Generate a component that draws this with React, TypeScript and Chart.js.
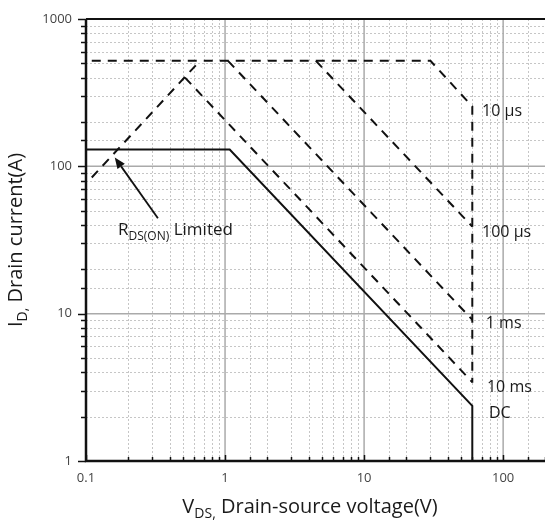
import { useEffect, useRef } from "react";
import { Chart, registerables } from "chart.js";

Chart.register(...registerables);

const FONT = '"Open Sans", "DejaVu Sans", sans-serif';

// Safe operating area boundaries, drain-source voltage (V) vs drain current (A)
const dcVoltage = [0.1, 1.08, 60, 60];
const dcCurrent = [130, 130, 2.37, 1];
const rdsVoltage = [0.11, 0.66];
const rdsCurrent = [84, 520];
const pulse10usVoltage = [0.11, 30, 60, 60];
const pulse10usCurrent = [520, 520, 255, 3.4];
const pulse100usVoltage = [4.5, 60];
const pulse100usCurrent = [520, 39];
const pulse1msVoltage = [1.05, 60];
const pulse1msCurrent = [520, 9.1];
const pulse10msVoltage = [0.515, 60];
const pulse10msCurrent = [400, 3.43];

// Axis ticks
const xTickValues = [0.1, 1, 10, 100];
const xTickLabels = ["0.1", "1", "10", "100"];
const yTickValues = [1, 10, 100, 1000];
const yTickLabels = ["1", "10", "100", "1000"];

// Curve names placed to the right of the 60 V limit
const curveNames = ["10 µs", "100 µs", "1 ms", "10 ms", "DC"];
const curveNameVoltage = [70.5, 70.5, 75, 76.5, 79];
const curveNameCurrent = [234, 35.8, 8.55, 3.15, 2.1];

// R_DS(on) annotation and its arrow (data coordinates)
const rdsNoteAt = [0.17, 34];
const arrowTail = [0.329, 44.4];
const arrowTip = [0.161, 115];

const isDecade = (v: number) =>
  Math.abs(Math.log10(v) - Math.round(Math.log10(v))) < 1e-6;

const labelFor = (v: number, values: number[], labels: string[]) => {
  for (let i = 0; i < values.length; i++) {
    if (Math.abs(v - values[i]) / values[i] < 1e-6) return labels[i];
  }
  return "";
};

type Part = { text: string; size: number; dy: number };

function drawParts(ctx: CanvasRenderingContext2D, parts: Part[], cx: number, y: number) {
  let total = 0;
  for (const p of parts) {
    ctx.font = `${p.size}px ${FONT}`;
    total += ctx.measureText(p.text).width;
  }
  let x = cx - total / 2;
  for (const p of parts) {
    ctx.font = `${p.size}px ${FONT}`;
    ctx.fillText(p.text, x, y + p.dy);
    x += ctx.measureText(p.text).width;
  }
}

const soaPlugin = {
  id: "soaFrame",
  beforeDatasetsDraw(chart: any) {
    const { ctx, chartArea: a, scales } = chart;
    const x = scales.x;
    const y = scales.y;
    ctx.save();
    // minor grid (dotted)
    ctx.lineWidth = 1;
    ctx.strokeStyle = "#c6c6c6";
    ctx.setLineDash([2, 2]);
    for (const t of x.ticks) {
      if (isDecade(t.value)) continue;
      const px = Math.round(x.getPixelForValue(t.value)) + 0.5;
      ctx.beginPath();
      ctx.moveTo(px, a.top);
      ctx.lineTo(px, a.bottom);
      ctx.stroke();
    }
    for (const t of y.ticks) {
      if (isDecade(t.value)) continue;
      const py = Math.round(y.getPixelForValue(t.value)) + 0.5;
      ctx.beginPath();
      ctx.moveTo(a.left, py);
      ctx.lineTo(a.right, py);
      ctx.stroke();
    }
    // major grid (solid)
    ctx.setLineDash([]);
    ctx.strokeStyle = "#aaaaaa";
    ctx.lineWidth = 1.5;
    for (const t of x.ticks) {
      if (!isDecade(t.value)) continue;
      const px = x.getPixelForValue(t.value);
      ctx.beginPath();
      ctx.moveTo(px, a.top);
      ctx.lineTo(px, a.bottom);
      ctx.stroke();
    }
    for (const t of y.ticks) {
      if (!isDecade(t.value)) continue;
      const py = y.getPixelForValue(t.value);
      ctx.beginPath();
      ctx.moveTo(a.left, py);
      ctx.lineTo(a.right, py);
      ctx.stroke();
    }
    ctx.restore();
  },
  afterDatasetsDraw(chart: any) {
    const { ctx, chartArea: a, scales } = chart;
    const x = scales.x;
    const y = scales.y;
    ctx.save();
    ctx.strokeStyle = "#111";
    ctx.lineWidth = 1.5;
    // tick marks: outward on the current axis, inward on the voltage axis
    for (const t of y.ticks) {
      const py = Math.round(y.getPixelForValue(t.value)) + 0.5;
      const len = isDecade(t.value) ? 8 : 5;
      ctx.beginPath();
      ctx.moveTo(a.left - len, py);
      ctx.lineTo(a.left, py);
      ctx.stroke();
    }
    for (const t of x.ticks) {
      const px = Math.round(x.getPixelForValue(t.value)) + 0.5;
      const len = isDecade(t.value) ? 6 : 4;
      ctx.beginPath();
      ctx.moveTo(px, a.bottom);
      ctx.lineTo(px, a.bottom - len);
      ctx.stroke();
    }
    // frame
    ctx.lineWidth = 2.5;
    ctx.beginPath();
    ctx.moveTo(a.left, a.top);
    ctx.lineTo(a.left, a.bottom);
    ctx.lineTo(a.right, a.bottom);
    ctx.stroke();
    ctx.lineWidth = 2;
    ctx.beginPath();
    ctx.moveTo(a.left, a.top);
    ctx.lineTo(a.right, a.top);
    ctx.stroke();
    ctx.restore();
  },
  afterDraw(chart: any) {
    const { ctx, chartArea: a, scales } = chart;
    const x = scales.x;
    const y = scales.y;
    ctx.save();
    ctx.fillStyle = "#1a1a1a";
    ctx.textBaseline = "alphabetic";
    ctx.textAlign = "left";

    // axis titles
    drawParts(
      ctx,
      [
        { text: "V", size: 20, dy: 0 },
        { text: "DS,", size: 14, dy: 5 },
        { text: " Drain-source voltage(V)", size: 20, dy: 0 },
      ],
      310,
      513
    );
    ctx.save();
    ctx.translate(22, (a.top + a.bottom) / 2);
    ctx.rotate(-Math.PI / 2);
    drawParts(
      ctx,
      [
        { text: "I", size: 20, dy: 0 },
        { text: "D,", size: 14, dy: 5 },
        { text: " Drain current(A)", size: 20, dy: 0 },
      ],
      0,
      0
    );
    ctx.restore();

    // curve names
    ctx.textBaseline = "middle";
    ctx.font = `16px ${FONT}`;
    curveNames.forEach((name, i) => {
      ctx.fillText(
        name,
        x.getPixelForValue(curveNameVoltage[i]),
        y.getPixelForValue(curveNameCurrent[i])
      );
    });

    // R_DS(on) note
    ctx.textBaseline = "alphabetic";
    let nx = x.getPixelForValue(rdsNoteAt[0]);
    const ny = y.getPixelForValue(rdsNoteAt[1]);
    ctx.font = `17px ${FONT}`;
    ctx.fillText("R", nx, ny);
    nx += ctx.measureText("R").width;
    ctx.font = `12px ${FONT}`;
    ctx.fillText("DS(ON)", nx, ny + 5);
    nx += ctx.measureText("DS(ON)").width;
    ctx.font = `17px ${FONT}`;
    ctx.fillText(" Limited", nx, ny);

    // arrow
    const tx = x.getPixelForValue(arrowTail[0]);
    const ty = y.getPixelForValue(arrowTail[1]);
    const hx = x.getPixelForValue(arrowTip[0]);
    const hy = y.getPixelForValue(arrowTip[1]);
    const ang = Math.atan2(hy - ty, hx - tx);
    const headLen = 11;
    const headHalf = 4.5;
    const bx = hx - headLen * Math.cos(ang);
    const by = hy - headLen * Math.sin(ang);
    ctx.strokeStyle = "#111";
    ctx.lineWidth = 1.8;
    ctx.beginPath();
    ctx.moveTo(tx, ty);
    ctx.lineTo(bx, by);
    ctx.stroke();
    ctx.fillStyle = "#111";
    ctx.beginPath();
    ctx.moveTo(hx, hy);
    ctx.lineTo(bx + headHalf * Math.sin(ang), by - headHalf * Math.cos(ang));
    ctx.lineTo(bx - headHalf * Math.sin(ang), by + headHalf * Math.cos(ang));
    ctx.closePath();
    ctx.fill();
    ctx.restore();
  },
};

const toPoints = (xs: number[], ys: number[]) => xs.map((v, i) => ({ x: v, y: ys[i] }));

const boundary = (label: string, xs: number[], ys: number[], dash: number[]) => ({
  label,
  data: toPoints(xs, ys),
  borderColor: "#111",
  borderWidth: 2,
  borderDash: dash,
  pointRadius: 0,
  fill: false,
  tension: 0,
});

export default function App() {
  const canvasRef = useRef<HTMLCanvasElement>(null);

  useEffect(() => {
    const canvas = canvasRef.current;
    if (!canvas) return;
    const chart = new Chart(canvas, {
      type: "line",
      data: {
        datasets: [
          boundary("RDS(ON) Limited", rdsVoltage, rdsCurrent, [9, 7]),
          boundary("10 µs", pulse10usVoltage, pulse10usCurrent, [9, 7]),
          boundary("100 µs", pulse100usVoltage, pulse100usCurrent, [9, 7]),
          boundary("1 ms", pulse1msVoltage, pulse1msCurrent, [9, 7]),
          boundary("10 ms", pulse10msVoltage, pulse10msCurrent, [9, 7]),
          boundary("DC", dcVoltage, dcCurrent, []),
        ] as any,
      },
      options: {
        animation: false,
        responsive: false,
        events: [],
        layout: { padding: { top: 19, left: 0, right: 0, bottom: 0 } },
        plugins: { legend: { display: false }, tooltip: { enabled: false } },
        scales: {
          x: {
            type: "logarithmic",
            min: 0.1,
            max: 200,
            grid: { display: false, drawTicks: false },
            border: { display: false },
            ticks: {
              autoSkip: false,
              maxRotation: 0,
              padding: 9,
              color: "#444",
              font: { family: FONT, size: 13 },
              callback: (v: any) => labelFor(Number(v), xTickValues, xTickLabels),
            },
            afterFit: (s: any) => {
              s.height = 64;
              s.paddingLeft = 0;
              s.paddingRight = 0;
            },
          },
          y: {
            type: "logarithmic",
            min: 1,
            max: 1000,
            grid: { display: false, drawTicks: false },
            border: { display: false },
            ticks: {
              autoSkip: false,
              padding: 14,
              color: "#444",
              font: { family: FONT, size: 13 },
              callback: (v: any) => labelFor(Number(v), yTickValues, yTickLabels),
            },
            afterFit: (s: any) => {
              s.width = 86;
              s.paddingTop = 0;
              s.paddingBottom = 0;
            },
          },
        },
      } as any,
      plugins: [soaPlugin],
    });
    return () => chart.destroy();
  }, []);

  return (
    <div style={{ position: "fixed", left: 0, top: 0, width: 545, height: 525, background: "#fff" }}>
      <canvas ref={canvasRef} width={545} height={525} />
    </div>
  );
}
